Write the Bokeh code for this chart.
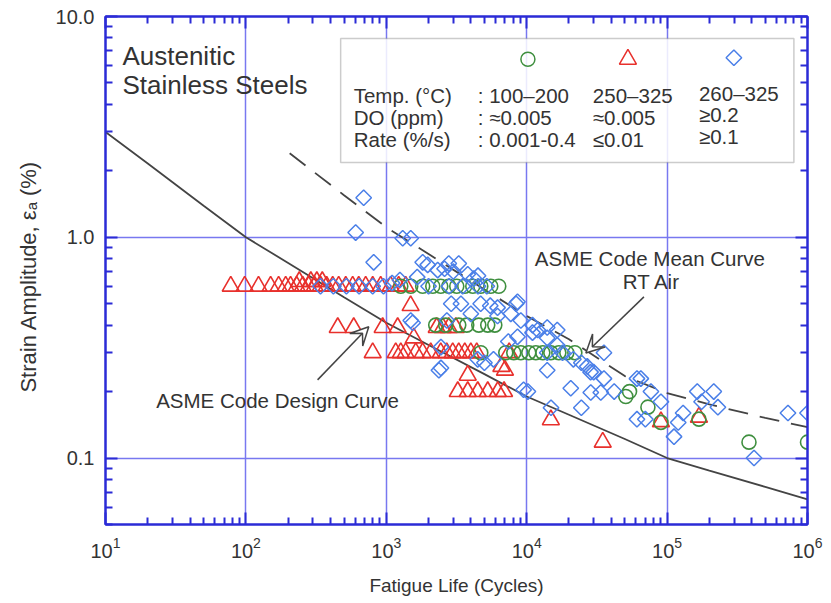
import numpy as np
from bokeh.plotting import figure
from bokeh.models import (FixedTicker, LogAxis, NumeralTickFormatter, CustomJSTickFormatter,
                          BoxAnnotation, Arrow, VeeHead)
from bokeh.core.properties import value
from bokeh.embed import file_html
from bokeh.resources import INLINE

FONT = "Liberation Sans"

# ASME code design curve and mean (RT air) curve, strain amplitude in %
design_n = [10, 20, 50, 100, 200, 500, 1e3, 2e3, 5e3, 1e4, 2e4, 5e4, 1e5, 2e5, 5e5, 1e6]
design_ea = [3.0, 2.16, 1.39, 1.0, 0.765, 0.535, 0.41, 0.325, 0.24, 0.19, 0.157, 0.122,
             0.100, 0.0877, 0.074, 0.065]
mean_n = [205, 500, 1e3, 2e3, 5e3, 1e4, 2e4, 5e4, 1e5, 2e5, 5e5, 1e6]
mean_ea = [2.4, 1.55, 1.11, 0.84, 0.58, 0.44, 0.345, 0.235, 0.197, 0.175, 0.152, 0.138]

# 250-325 C, DO ~0.005 ppm (triangles)
tri_n = [78, 98, 123, 150, 171, 192, 208, 230, 254, 280, 309, 341, 376, 415, 458, 514,
         576, 636, 713, 800, 912, 1074, 1225, 1374,
         240, 290, 320, 350,
         1490,
         451, 586, 942, 1205, 2286, 2523, 2786, 3126, 1570,
         800, 1167, 1268, 1374, 1621, 1816, 2072, 2442, 2694, 2972, 3281, 3622, 3999, 4406, 7500,
         6600, 7000,
         3228, 3802, 4480, 5278, 6223, 6900, 3802,
         14860, 34800, 90400, 168600]
tri_ea = [0.6] * 24 + [0.63] * 4 + [0.49] + [0.39] * 8 + [0.35] + [0.3] * 15 + [0.26, 0.25] + \
         [0.2] * 6 + [0.237] + [0.149, 0.118, 0.146, 0.153]

# 100-200 C, DO ~0.005 ppm (circles)
cir_n = [1268, 1493, 1816, 2143, 2442, 2786, 3176, 3622, 4130, 4710, 5546, 6324,
         2249, 2650, 3281, 3741, 4558, 5278, 5926,
         4710, 7096, 8090, 9080, 10350, 11610, 13030, 14860, 16940, 19310, 22020,
         50800, 54000, 73000, 90400, 168600, 383000, 1000000]
cir_ea = [0.6] * 12 + [0.4] * 7 + [0.3] * 11 + [0.19, 0.2, 0.17, 0.145, 0.15, 0.118, 0.118]

# 260-325 C, DO >= 0.2 ppm (diamonds)
dia_n = [690, 605, 1309, 1493, 813, 1816, 1972, 2786, 3281, 2323, 2600, 3000, 3802, 4200, 1660, 4500,
         340, 420, 520, 640, 800, 955, 1100, 2000, 2800, 3500, 4500, 5200, 1250,
         2900, 3400, 4700, 5500, 8400, 8600, 6200, 4000, 6200, 7700,
         1493, 2700, 1540, 9080, 11000, 14000, 12000, 16500, 11000, 14000, 8600,
         2450, 7400, 16500,
         4480, 5800, 5000, 21500, 35500, 14000, 18000,
         2450, 2370, 14000, 27000, 30000, 24500, 28500,
         9500, 10200, 20600, 28600, 33700, 35500, 42000, 65000, 61000, 76700, 90400,
         164000, 215000, 176000, 230000,
         14900, 24500, 61000, 70000, 120000, 130000, 112000, 726000, 1000000, 416000]
dia_ea = [1.51, 1.05, 0.99, 0.99, 0.77, 0.77, 0.75, 0.76, 0.76, 0.71, 0.72, 0.70, 0.68, 0.65, 0.66, 0.67,
          0.6, 0.6, 0.6, 0.6, 0.6, 0.6, 0.62, 0.6, 0.6, 0.6, 0.6, 0.6, 0.64,
          0.5, 0.5, 0.5, 0.49, 0.5, 0.51, 0.48, 0.45, 0.44, 0.45,
          0.42, 0.42, 0.41, 0.42, 0.40, 0.39, 0.38, 0.38, 0.37, 0.35, 0.354,
          0.318, 0.337, 0.324,
          0.28, 0.28, 0.27, 0.28, 0.3, 0.3, 0.3,
          0.256, 0.25, 0.25, 0.26, 0.245, 0.27, 0.245,
          0.204, 0.2, 0.207, 0.198, 0.198, 0.229, 0.2, 0.229, 0.229, 0.2, 0.18,
          0.2, 0.2, 0.18, 0.17,
          0.169, 0.169, 0.15, 0.15, 0.145, 0.16, 0.125, 0.16, 0.16, 0.1]

# legend table
legend_rows = ["Temp. (°C)", "DO (ppm)", "Rate (%/s)"]
legend_cir = [": 100–200", ": ≈0.005", ": 0.001-0.4"]
legend_tri = ["250–325", "≈0.005", "≤0.01"]
legend_dia = ["260–325", "≥0.2", "≥0.1"]

x_ticks = [10, 100, 1e3, 1e4, 1e5, 1e6]
y_ticks = [0.1, 1.0, 10.0]
x_minor = [m * 10 ** e for e in range(1, 6) for m in range(2, 10)]
y_minor = [m * 10 ** e for e in (-2, -1, 0) for m in range(2, 10) if m * 10 ** e >= 0.05]

RED = "#e8302c"
GREEN = "#3f8f3f"
BLUE = "#4a7fe8"
AXIS_BLUE = "#2b2bd6"
GRID_BLUE = "#7878f0"
INK = "#333333"

p = figure(width=831, height=603, x_axis_type="log", y_axis_type="log",
           x_range=(10, 1e6), y_range=(0.05, 10),
           output_backend="svg", toolbar_location=None,
           min_border_left=105, min_border_right=24, min_border_top=16, min_border_bottom=79)
p.background_fill_color = "white"
p.border_fill_color = "white"
p.outline_line_color = AXIS_BLUE
p.outline_line_width = 2

def style_axis(ax, ticks, minor):
    # inward ticks only, blue frame
    ax.ticker = FixedTicker(ticks=ticks, minor_ticks=minor)
    ax.axis_line_color = AXIS_BLUE
    ax.axis_line_width = 2
    ax.major_tick_line_color = AXIS_BLUE
    ax.major_tick_line_width = 2
    ax.minor_tick_line_color = AXIS_BLUE
    ax.minor_tick_line_width = 2
    ax.major_tick_in = 12
    ax.major_tick_out = 0
    ax.minor_tick_in = 7
    ax.minor_tick_out = 0
    ax.major_label_text_font = FONT
    ax.major_label_text_color = INK
    ax.major_label_text_font_size = "20px"
    ax.axis_label_text_font = FONT
    ax.axis_label_text_color = INK
    ax.axis_label_text_font_style = "normal"

xa = p.xaxis[0]
style_axis(xa, x_ticks, x_minor)
xa.axis_label = "Fatigue Life (Cycles)"
xa.axis_label_text_font_size = "19px"
xa.major_label_standoff = 12
xa.axis_label_standoff = 14

ya = p.yaxis[0]
style_axis(ya, y_ticks, y_minor)
ya.formatter = NumeralTickFormatter(format="0.0")
ya.axis_label = "Strain Amplitude,   εₐ (%)"
ya.axis_label_text_font_size = "22px"
ya.major_label_standoff = 11
ya.axis_label_standoff = 12

blank = CustomJSTickFormatter(code="return ''")
for loc, ticks, minor in (("right", y_ticks, y_minor), ("above", x_ticks, x_minor)):
    ax = LogAxis(formatter=blank)
    style_axis(ax, ticks, minor)
    ax.major_label_standoff = 0
    p.add_layout(ax, loc)

p.xgrid.ticker = FixedTicker(ticks=[100, 1e3, 1e4, 1e5])
p.ygrid.ticker = FixedTicker(ticks=[0.1, 1.0])
for g in (p.xgrid[0], p.ygrid[0]):
    g.grid_line_color = GRID_BLUE
    g.grid_line_width = 1.5

# legend frame sits under the glyphs but above the grid
p.add_layout(BoxAnnotation(left=473, right=8.0e5, top=7.94, bottom=2.18,
                           fill_color="white", fill_alpha=0.85,
                           line_color="#555555", line_width=1.5, level="underlay"))

# curves
p.line(design_n, design_ea, line_color="#444444", line_width=1.8)
p.line(mean_n, mean_ea, line_color="#444444", line_width=1.8, line_dash="20 12")

# test data
p.scatter(tri_n, tri_ea, marker="triangle", size=17, fill_color=None,
          line_color=RED, line_width=1.6)
p.scatter(cir_n, cir_ea, marker="circle", size=14, fill_color=None,
          line_color=GREEN, line_width=1.6)
p.scatter(dia_n, dia_ea, marker="square", size=11, angle=np.pi / 4, fill_color=None,
          line_color=BLUE, line_width=1.5)

# legend symbols and table
p.scatter([10200], [6.4], marker="circle", size=14, fill_color=None, line_color=GREEN, line_width=1.5)
p.scatter([52600], [6.4], marker="triangle", size=17, fill_color=None, line_color=RED, line_width=1.5)
p.scatter([299000], [6.5], marker="square", size=11, angle=np.pi / 4, fill_color=None,
          line_color=BLUE, line_width=1.5)

row_y = [4.38, 3.48, 2.77]
row_y_dia = [4.5, 3.58, 2.85]
tstyle = dict(text_font=value(FONT), text_font_size="20.5px", text_color=INK,
              text_baseline="middle", text_align="left")
p.text(x=[586] * 3, y=row_y, text=legend_rows, **tstyle)
p.text(x=[4480] * 3, y=row_y, text=legend_cir, **tstyle)
p.text(x=[29600] * 3, y=row_y, text=legend_tri, **tstyle)
p.text(x=[168600] * 3, y=row_y_dia, text=legend_dia, **tstyle)

# material note
p.text(x=[13.2, 13.2], y=[6.59, 4.92], text=["Austenitic", "Stainless Steels"],
       text_font=value(FONT), text_font_size="26px", text_color=INK,
       text_baseline="middle", text_align="left")

# curve callouts
cstyle = dict(text_font=value(FONT), text_font_size="20.5px", text_color=INK,
              text_baseline="middle", text_align="center")
p.text(x=[75400, 77600], y=[0.80, 0.628], text=["ASME Code Mean Curve", "RT Air"], **cstyle)
p.text(x=[168], y=[0.183], text=["ASME Code Design Curve"], **cstyle)

head = dict(size=18, fill_color="white", line_color="#444444", line_width=1.5)
p.add_layout(Arrow(end=VeeHead(**head), x_start=324, y_start=0.226, x_end=750, y_end=0.393,
                   line_color="#444444", line_width=1.5))
p.add_layout(Arrow(end=VeeHead(**head), x_start=68400, y_start=0.537, x_end=26400, y_end=0.299,
                   line_color="#444444", line_width=1.5))

open("out.html", "w").write(file_html(p, INLINE))
